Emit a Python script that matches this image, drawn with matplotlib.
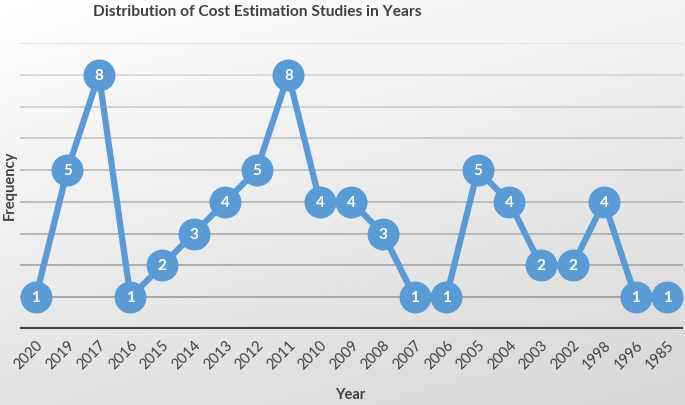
import numpy as np
import matplotlib.pyplot as plt

# Datos
years = ['2020', '2019', '2017', '2016', '2015', '2014', '2013', '2012', '2011', '2010', '2009',
         '2008', '2007', '2006', '2005', '2004', '2003', '2002', '1998', '1996', '1985']
counts = [1, 5, 8, 1, 2, 3, 4, 5, 8, 4, 4, 3, 1, 1, 5, 4, 2, 2, 4, 1, 1]

plt.rcParams['font.family'] = ['Lato', 'DejaVu Sans']

fig = plt.figure(figsize=(6.85, 4.06), dpi=100)

# Fondo degradado
bg = fig.add_axes([0, 0, 1, 1], zorder=0)
yy, xx = np.mgrid[0:1:200j, 0:1:300j]
grad = 1.0 - 0.16 * (0.75 * yy + 0.35 * xx) / 1.1
bg.imshow(grad, cmap='gray', vmin=0, vmax=1, aspect='auto', extent=[0, 1, 0, 1], origin='upper')
bg.axis('off')

ax = fig.add_axes([20/685, (406-330)/406, 663/685, 286/406], zorder=1)
ax.set_facecolor('none')

x = np.arange(len(years))
ax.set_xlim(-0.5, len(years) - 0.5)
ax.set_ylim(0, 9)

# Lineas de la rejilla
for v in range(1, 10):
    g = 0.63 + (v - 1) / 8 * 0.25
    ax.axhline(v, color=(g, g, g), lw=1.3, zorder=1)
ax.axhline(0, color='#404040', lw=3, zorder=2)

ax.plot(x, counts, color='#5B9BD5', lw=4.5, marker='o', markersize=22,
        markerfacecolor='#5B9BD5', markeredgecolor='#5B9BD5', zorder=3, clip_on=False)
for xi, c in zip(x, counts):
    ax.text(xi, c, str(c), ha='center', va='center', color='white',
            fontsize=11, fontweight='bold', zorder=4)

for s in ax.spines.values():
    s.set_visible(False)
ax.set_yticks([])
ax.set_xticks(x)
ax.set_xticklabels(years, rotation=45, ha='right', rotation_mode='anchor',
                   fontsize=10.5, color='#404040')
ax.tick_params(axis='x', length=0, pad=6)

fig.text(257/685, 1 - 12/406, 'Distribution of Cost Estimation Studies in Years',
         ha='center', va='center', fontsize=11.2, fontweight='bold', color='#404040')
fig.text(10/685, 1 - 185/406, 'Frequency', rotation=90, ha='center', va='center',
         fontsize=10.5, fontweight='bold', color='#404040')
fig.text(350/685, 1 - 395/406, 'Year', ha='center', va='center',
         fontsize=10.5, fontweight='bold', color='#404040')

fig.savefig('out.png', dpi=100)
